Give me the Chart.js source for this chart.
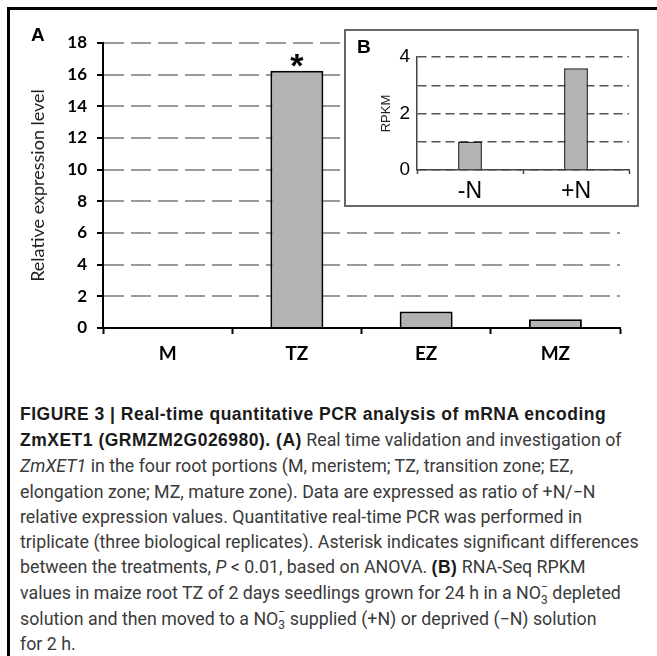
<!DOCTYPE html>
<html>
<head>
<meta charset="utf-8">
<script src="https://cdn.jsdelivr.net/npm/chart.js@4"></script>
<style>
  body { margin: 0; background: #fff; width: 657px; height: 656px; overflow: hidden; position: relative; }
  #frame { position: absolute; left: 7px; top: 7px; width: 700px; height: 700px; border-left: 3px solid #000; border-top: 3px solid #000; }
  #main { position: absolute; left: 0; top: 0; }
  #insetBox { position: absolute; left: 344px; top: 29px; width: 295px; height: 178px; box-sizing: border-box; border: 2px solid #666; background: #fff; }
  #inset { position: absolute; left: 0; top: 0; }
  .tag { position: absolute; font-family: "Liberation Sans", Arial, sans-serif; font-weight: bold; color: #000; }
  #caption { position: absolute; left: 20px; top: 401px; font-family: "Roboto", sans-serif; font-size: 17.8px; line-height: 25.2px; color: #3a3a3a; }
  #caption div { white-space: nowrap; }
  #caption b { color: #1a1a1a; font-family: "Liberation Sans", Arial, sans-serif; font-size: 17.5px; letter-spacing: 0.5px; }
  .no3 { display: inline-block; position: relative; width: 7px; height: 1em; }
  .no3 .up { position: absolute; left: 0; top: -7px; font-size: 12px; }
  .no3 .dn { position: absolute; left: 0; top: 6px; font-size: 12px; }
</style>
</head>
<body>
<div id="frame"></div>
<canvas id="main" width="657" height="380"></canvas>
<div class="tag" style="left:31px; top:24px; font-size:19px;">A</div>
<div id="insetBox">
  <canvas id="inset" width="291" height="174"></canvas>
  <div class="tag" style="left:11px; top:5px; font-size:19px;">B</div>
</div>
<div id="caption">
  <div><b>FIGURE 3 | Real-time quantitative PCR analysis of mRNA encoding</b></div>
  <div><b>ZmXET1 (GRMZM2G026980). (A)</b> Real time validation and investigation of</div>
  <div><i>ZmXET1</i> in the four root portions (M, meristem; TZ, transition zone; EZ,</div>
  <div>elongation zone; MZ, mature zone). Data are expressed as ratio of +N/−N</div>
  <div>relative expression values. Quantitative real-time PCR was performed in</div>
  <div>triplicate (three biological replicates). Asterisk indicates significant differences</div>
  <div>between the treatments, <i>P</i> &lt; 0.01, based on ANOVA. <b>(B)</b> RNA-Seq RPKM</div>
  <div>values in maize root TZ of 2 days seedlings grown for 24 h in a NO<span class="no3"><span class="up">−</span><span class="dn">3</span></span> depleted</div>
  <div>solution and then moved to a NO<span class="no3"><span class="up">−</span><span class="dn">3</span></span> supplied (+N) or deprived (−N) solution</div>
  <div>for 2 h.</div>
</div>
<script>
// panel A: qPCR ratio +N/-N per root portion
const categories = ['M', 'TZ', 'EZ', 'MZ'];
const expression = [null, 16.25, 1.05, 0.55];
const significant = [false, true, false, false];
const yMax = 18;
const yStep = 2;

// panel B: RNA-Seq RPKM in TZ
const insetCategories = ['-N', '+N'];
const rpkm = [1.0, 3.6];
const insetMax = 4;
const insetLabelled = [0, 2, 4];

const barGrey = '#b3b3b3';

// asterisk above significant bars
const starPlugin = {
  id: 'stars',
  afterDatasetsDraw(chart) {
    const meta = chart.getDatasetMeta(0);
    const ctx = chart.ctx;
    ctx.save();
    ctx.font = 'bold 34px "Liberation Sans", sans-serif';
    ctx.fillStyle = '#000';
    ctx.textAlign = 'center';
    ctx.textBaseline = 'alphabetic';
    meta.data.forEach((bar, i) => {
      if (significant[i]) ctx.fillText('*', bar.x, bar.y + 6);
    });
    ctx.restore();
  }
};

new Chart(document.getElementById('main'), {
  type: 'bar',
  data: {
    labels: categories,
    datasets: [{
      data: expression,
      backgroundColor: barGrey,
      borderColor: '#000',
      borderWidth: 2,
      borderSkipped: 'bottom',
      categoryPercentage: 1,
      barPercentage: 0.41
    }]
  },
  options: {
    responsive: false,
    animation: false,
    layout: { padding: { left: 27, top: 43, right: 37, bottom: 12 } },
    plugins: { legend: { display: false }, tooltip: { enabled: false } },
    scales: {
      x: {
        grid: { drawOnChartArea: false, tickLength: 6, tickColor: '#000', tickWidth: 2 },
        border: { color: '#000', width: 2 },
        ticks: { color: '#000', font: { family: 'Lato', weight: 'bold', size: 19 }, padding: 8 },
        afterFit(s) { s.height = 40; }
      },
      y: {
        min: 0,
        max: yMax,
        ticks: { stepSize: yStep, color: '#000', font: { family: 'Lato', weight: 'bold', size: 17 }, padding: 10 },
        grid: { color: '#9a9a9a', lineWidth: 2, tickLength: 6, tickColor: '#000', tickWidth: 2 },
        border: { color: '#000', width: 2, dash: [20, 7] },
        title: { display: true, text: 'Relative expression level', color: '#222', font: { family: 'Lato', size: 18 }, padding: 0 },
        afterFit(s) { s.width = 76; }
      }
    }
  },
  plugins: [starPlugin]
});

new Chart(document.getElementById('inset'), {
  type: 'bar',
  data: {
    labels: insetCategories,
    datasets: [{
      data: rpkm,
      backgroundColor: barGrey,
      borderColor: '#222',
      borderWidth: 1.5,
      borderSkipped: 'bottom',
      categoryPercentage: 1,
      barPercentage: 0.225
    }]
  },
  options: {
    responsive: false,
    animation: false,
    layout: { padding: { left: 33, top: 26, right: 8, bottom: 0 } },
    plugins: { legend: { display: false }, tooltip: { enabled: false } },
    scales: {
      x: {
        grid: { drawOnChartArea: false, tickLength: 4, tickColor: '#444', tickWidth: 1.5 },
        border: { color: '#444', width: 1.5 },
        ticks: { color: '#000', font: { family: 'Liberation Sans', size: 23 }, padding: 4 },
        afterFit(s) { s.height = 35; }
      },
      y: {
        min: 0,
        max: insetMax,
        ticks: {
          stepSize: 1,
          color: '#000',
          font: { family: 'Liberation Sans', size: 19 },
          padding: 7,
          callback: v => insetLabelled.includes(v) ? v : ''
        },
        grid: { color: '#555', lineWidth: 1.5, drawTicks: false },
        border: { color: '#444', width: 1.5, dash: [9, 5] },
        title: { display: true, text: 'RPKM', color: '#222', font: { family: 'Liberation Sans', size: 13 }, padding: 0 },
        afterFit(s) { s.width = 38; }
      }
    }
  }
});
</script>
</body>
</html>
